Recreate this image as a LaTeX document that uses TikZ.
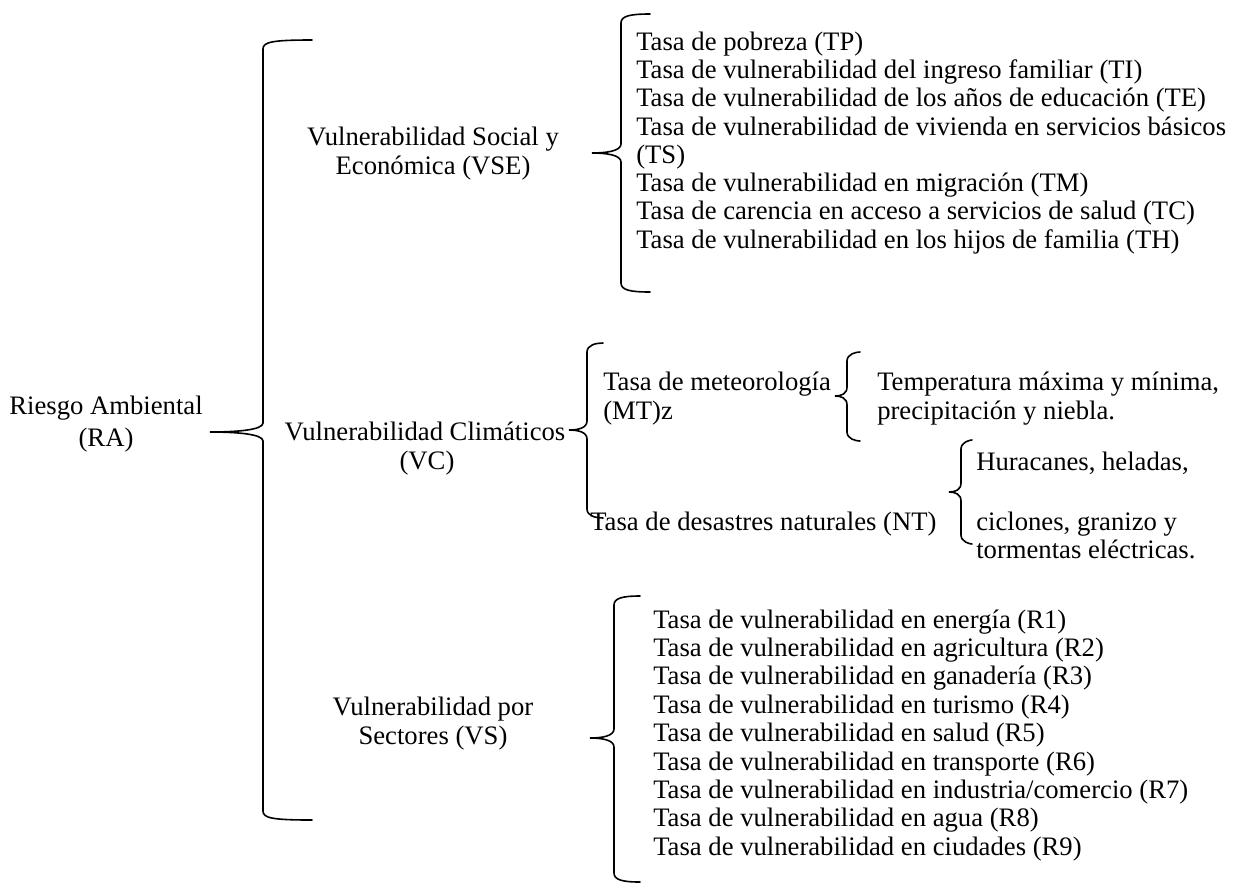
\documentclass[tikz,border=0pt]{standalone}
\usepackage{fontspec}
\setmainfont{Liberation Serif}
\begin{document}
% Curly brace: x of spine, top y, bottom y, tip x, tip y, x of the hook ends
\newcommand\drawbrace[6]{%
  \draw[bracestyle] (#6,#2) .. controls ({#1+9},{#2}) and (#1,{#2+2}) .. (#1,{#2+9})
    -- (#1,{#5-9}) .. controls (#1,{#5-2}) and ({(#1+#4)/2},#5) .. (#4,#5)
    .. controls ({(#1+#4)/2},#5) and (#1,{#5+2}) .. (#1,{#5+9})
    -- (#1,{#3-9}) .. controls (#1,{#3-2}) and ({#1+9},#3) .. (#6,#3);}
\begin{tikzpicture}[x=0.75pt,y=-0.75pt,
  bracestyle/.style={line width=1.2pt,line cap=round},
  txt/.style={font=\fontsize{20}{21.2}\selectfont,inner sep=0pt},
  item/.style={txt,anchor=base west},
  head/.style={txt,anchor=base}]
\useasboundingbox (0,0) rectangle (1241,890);

% root
\node[head] (ra1) at (106,414) {Riesgo Ambiental};
\node[head] (ra2) at (106,446) {(RA)};
\drawbrace{263}{40}{820}{210}{432}{312}

% first level
\node[head] (vse1) at (433,145) {Vulnerabilidad Social y};
\node[head] (vse2) at (433,174) {Económica (VSE)};
\node[head] (vc1) at (425,440) {Vulnerabilidad Climáticos};
\node[head] (vc2) at (427,469) {(VC)};
\node[head] (vs1) at (433,715) {Vulnerabilidad por};
\node[head] (vs2) at (433,744) {Sectores (VS)};

% social and economic indicators
\drawbrace{621}{14}{292}{592}{153}{650}
\node[item] (tp) at (636,50) {Tasa de pobreza (TP)};
\node[item] (ti) at (636,78) {Tasa de vulnerabilidad del ingreso familiar (TI)};
\node[item] (te) at (636,106) {Tasa de vulnerabilidad de los años de educación (TE)};
\node[item] (ts1) at (636,135) {Tasa de vulnerabilidad de vivienda en servicios básicos};
\node[item] (ts2) at (636,163) {(TS)};
\node[item] (tm) at (636,191) {Tasa de vulnerabilidad en migración (TM)};
\node[item] (tc) at (636,219) {Tasa de carencia en acceso a servicios de salud (TC)};
\node[item] (th) at (636,248) {Tasa de vulnerabilidad en los hijos de familia (TH)};

% climatic
\drawbrace{587}{343}{518}{569}{430}{603}
\node[item] (mt1) at (603,390) {Tasa de meteorología};
\node[item] (mt2) at (603,419) {(MT)z};
\drawbrace{847}{352}{441}{835}{396}{860}
\node[item] (mtd1) at (877,390) {Temperatura máxima y mínima,};
\node[item] (mtd2) at (877,419) {precipitación y niebla.};
\node[item] (nt) at (590,530) {Tasa de desastres naturales (NT)};
\drawbrace{961}{440}{544}{949}{492}{972}
\node[item] (ntd1) at (976,470) {Huracanes, heladas,};
\node[item] (ntd2) at (976,530) {ciclones, granizo y};
\node[item] (ntd3) at (976,558) {tormentas eléctricas.};

% sectors
\drawbrace{614}{596}{882}{590}{738}{640}
\node[item] (r1) at (653,628) {Tasa de vulnerabilidad en energía (R1)};
\node[item] (r2) at (653,656) {Tasa de vulnerabilidad en agricultura (R2)};
\node[item] (r3) at (653,684) {Tasa de vulnerabilidad en ganadería (R3)};
\node[item] (r4) at (653,713) {Tasa de vulnerabilidad en turismo (R4)};
\node[item] (r5) at (653,741) {Tasa de vulnerabilidad en salud (R5)};
\node[item] (r6) at (653,770) {Tasa de vulnerabilidad en transporte (R6)};
\node[item] (r7) at (653,798) {Tasa de vulnerabilidad en industria/comercio (R7)};
\node[item] (r8) at (653,826) {Tasa de vulnerabilidad en agua (R8)};
\node[item] (r9) at (653,855) {Tasa de vulnerabilidad en ciudades (R9)};
\end{tikzpicture}
\end{document}
